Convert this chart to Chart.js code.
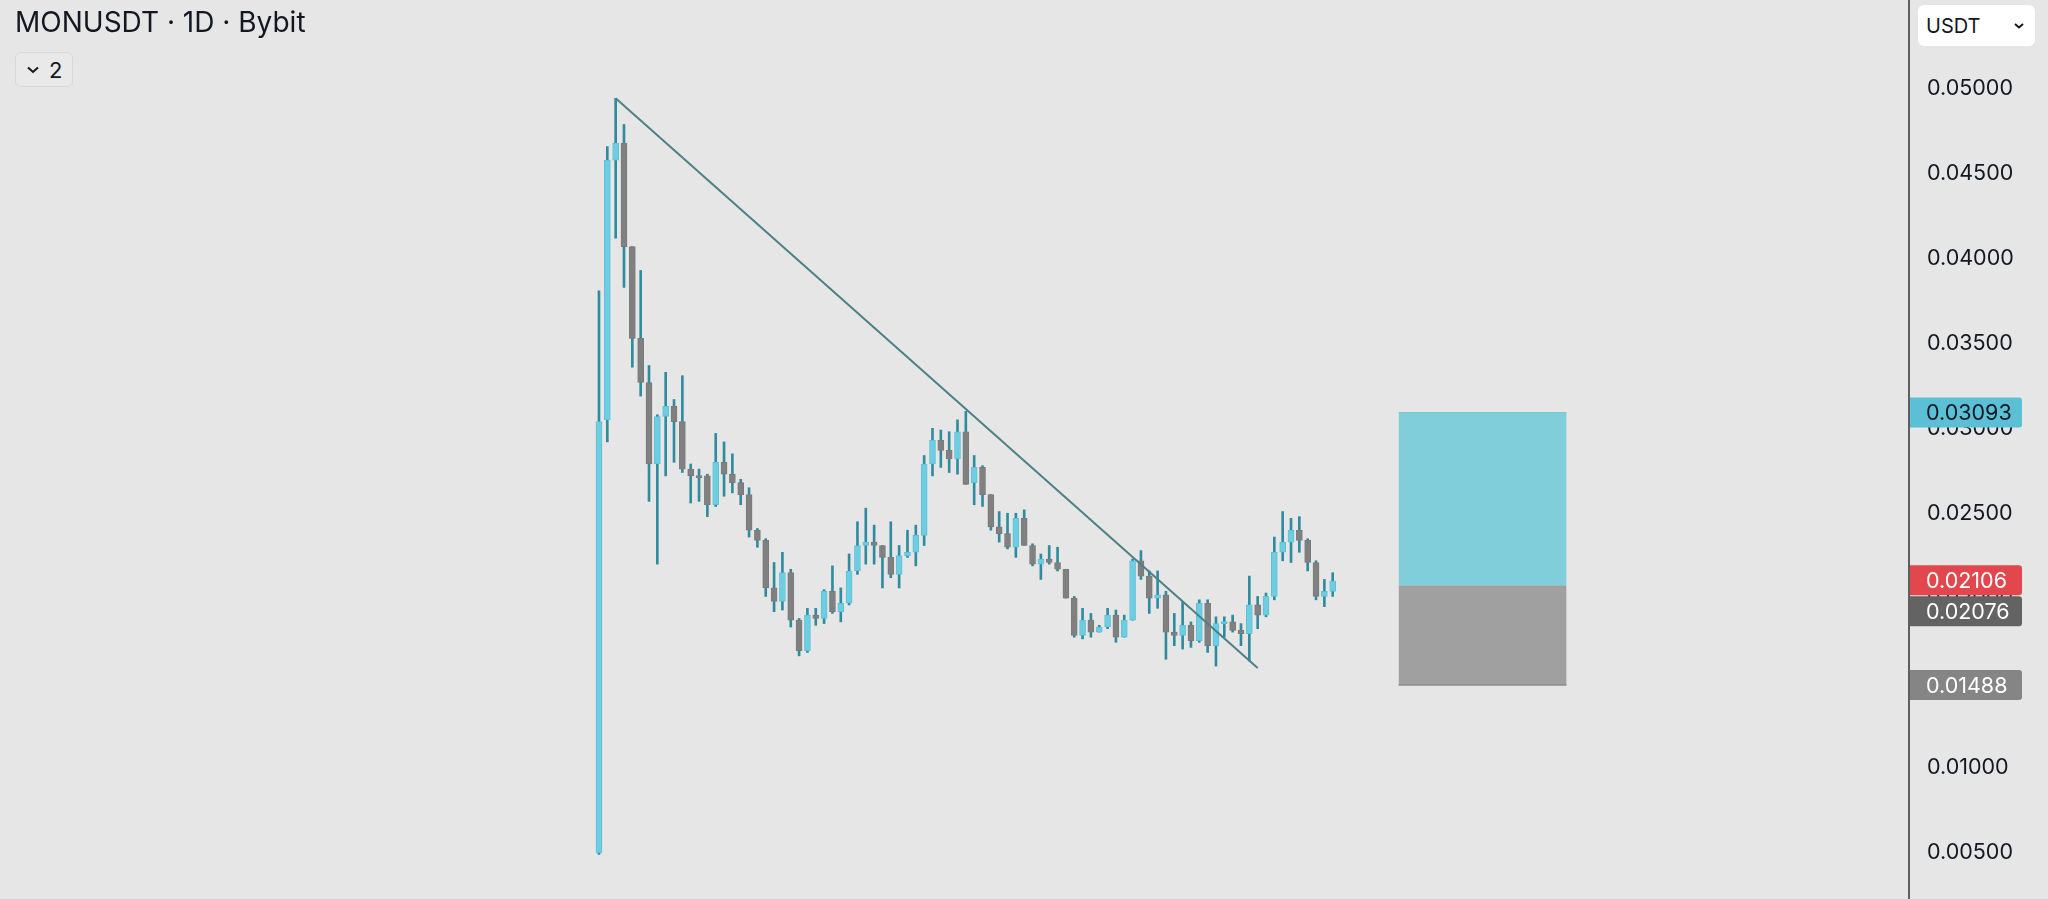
<!DOCTYPE html>
<html>
<head>
<meta charset="utf-8">
<title>MONUSDT · 1D · Bybit</title>
<script src="https://cdn.jsdelivr.net/npm/chart.js@4.4.1/dist/chart.umd.min.js"></script>
<style>
  html, body { margin: 0; padding: 0; background: #e6e6e6; overflow: hidden; }
  #wrap { position: relative; width: 2048px; height: 899px; }
  #chart { position: absolute; left: 0; top: 0; }
  .title { position: absolute; left: 15px; top: 5px; font: 28px Inter, "Noto Sans", sans-serif; color: #131722; }
  .legend-btn { position: absolute; left: 15px; top: 52px; width: 58px; height: 35px; box-sizing: border-box;
    border: 1px solid #d8d8d8; border-radius: 6px; background: #e9e9e9; font: 22px Inter, sans-serif; color: #131722;
    display: flex; align-items: center; gap: 9px; padding-left: 10px; }
  .currency { position: absolute; left: 1918px; top: 5px; width: 117px; height: 41px; box-sizing: border-box;
    background: #fff; border-radius: 6px; font: 20px Inter, sans-serif; color: #131722;
    display: flex; align-items: center; justify-content: space-between; padding: 0 10px 0 8px; }
</style>
</head>
<body>
<div id="wrap">
  <canvas id="chart" width="2048" height="899"></canvas>
  <div class="title">MONUSDT · 1D · Bybit</div>
  <div class="legend-btn">
    <svg width="14" height="10" viewBox="0 0 14 10"><path d="M2 2.5 L7 7 L12 2.5" fill="none" stroke="#131722" stroke-width="2"/></svg>
    <span>2</span>
  </div>
  <div class="currency">
    <span>USDT</span>
    <svg width="12" height="8" viewBox="0 0 12 8"><path d="M2 2 L6 5.5 L10 2" fill="none" stroke="#131722" stroke-width="2"/></svg>
  </div>
</div>
<script>
// ===== DATA (daily candles, index 0 = first day) =====
const opens  = [0.0050,0.0305,0.0458,0.0468,0.0407,0.0353,0.0327,0.0279,0.0307,0.0313,
                0.0304,0.0276,0.0272,0.0272,0.0255,0.0280,0.0273,0.0268,0.0261,0.0240,
                0.0234,0.0206,0.0198,0.0215,0.0187,0.0169,0.0190,0.0188,0.0204,0.0192,
                0.0197,0.0216,0.0231,0.0233,0.0231,0.0224,0.0214,0.0225,0.0227,0.0237,
                0.0279,0.0293,0.0287,0.0282,0.0298,0.0268,0.0277,0.0261,0.0242,0.0238,
                0.0230,0.0247,0.0231,0.0220,0.0223,0.0221,0.0217,0.0200,0.0178,0.0187,
                0.0180,0.0183,0.0190,0.0177,0.0187,0.0222,0.0213,0.0200,0.0202,0.0180,
                0.0178,0.0184,0.0175,0.0197,0.0172,0.0185,0.0186,0.0181,0.0179,0.0196,
                0.0190,0.0201,0.0227,0.0233,0.0240,0.0234,0.0221,0.0201,0.0204];
const highs  = [0.0381,0.0466,0.04944,0.0479,0.0407,0.0393,0.0337,0.0308,0.0333,0.0317,
                0.0331,0.0279,0.0276,0.0273,0.0297,0.0292,0.0285,0.0270,0.0265,0.0241,
                0.0235,0.0221,0.0227,0.0217,0.0188,0.0194,0.0194,0.0205,0.0219,0.0206,
                0.0226,0.0245,0.0253,0.0243,0.0231,0.0245,0.0231,0.0240,0.0243,0.0284,
                0.0300,0.0299,0.0298,0.0305,0.0310,0.0284,0.0278,0.0261,0.0251,0.0250,
                0.0250,0.0252,0.0232,0.0226,0.0231,0.0230,0.0217,0.0201,0.0194,0.0191,
                0.0184,0.0194,0.0193,0.0190,0.0223,0.0228,0.0216,0.0216,0.0204,0.0191,
                0.0198,0.0186,0.0199,0.0199,0.0189,0.0189,0.0190,0.0185,0.0213,0.0201,
                0.0203,0.0236,0.0251,0.0247,0.0248,0.0235,0.0222,0.0211,0.0215];
const lows   = [0.0049,0.0292,0.0412,0.0383,0.0336,0.0319,0.0257,0.0220,0.0272,0.0280,
                0.0274,0.0256,0.0257,0.0248,0.0254,0.0260,0.0262,0.0255,0.0236,0.0230,
                0.0201,0.0192,0.0193,0.0183,0.0166,0.0168,0.0184,0.0185,0.0191,0.0186,
                0.0196,0.0214,0.0220,0.0220,0.0206,0.0212,0.0206,0.0224,0.0219,0.0231,
                0.0272,0.0277,0.0274,0.0273,0.0267,0.0255,0.0254,0.0240,0.0233,0.0229,
                0.0224,0.0231,0.0219,0.0211,0.0220,0.0216,0.0200,0.0177,0.0176,0.0177,
                0.0180,0.0182,0.0174,0.0177,0.0187,0.0211,0.0191,0.0194,0.0164,0.0172,
                0.0170,0.0171,0.0174,0.0168,0.0160,0.0177,0.0180,0.0172,0.0163,0.0182,
                0.0189,0.0199,0.0222,0.0221,0.0227,0.0216,0.0199,0.0195,0.0201];
const closes = [0.0304,0.0458,0.0468,0.0407,0.0353,0.0327,0.0279,0.0307,0.0313,0.0304,
                0.0276,0.0272,0.0271,0.0255,0.0280,0.0273,0.0268,0.0261,0.0240,0.0234,
                0.0206,0.0198,0.0215,0.0187,0.0169,0.0190,0.0188,0.0204,0.0192,0.0197,
                0.0216,0.0231,0.0233,0.0231,0.0224,0.0214,0.0225,0.0227,0.0237,0.0279,
                0.0293,0.0287,0.0282,0.0298,0.0267,0.0277,0.0261,0.0242,0.0238,0.0230,
                0.0247,0.0231,0.0220,0.0223,0.0221,0.0217,0.0200,0.0178,0.0187,0.0180,
                0.0183,0.0190,0.0177,0.0187,0.0222,0.0213,0.0200,0.0202,0.0180,0.0178,
                0.0184,0.0175,0.0197,0.0172,0.0185,0.0186,0.0181,0.0179,0.0196,0.0190,
                0.0201,0.0227,0.0233,0.0240,0.0234,0.0221,0.0201,0.0204,0.0210];

const priceTicks = [0.005, 0.010, 0.015, 0.020, 0.025, 0.030, 0.035, 0.040, 0.045, 0.050];

// trend line drawn from day 2's high to day 79
const trendDays   = [2, 79];
const trendPrices = [0.04944, 0.01589];

// long position tool: start/end (in days), target / entry / stop
const positionDays = [95.9, 116.05];
const targetPrice = 0.03093;
const entryPrice  = 0.02076;
const stopPrice   = 0.01488;
const lastPrice   = 0.02106;

// ===== CHART =====
const UP_FILL = '#6fcde1', UP_EDGE = '#5cc2d9';
const DOWN_FILL = '#808080', DOWN_EDGE = '#7a7a7a';
const WICK = '#2f8c9f';
const AXIS_FONT = '21.5px Inter, "Noto Sans", sans-serif';

const days = opens.map((_, i) => i);
const isUp = days.map(i => closes[i] >= opens[i]);

const badges = [
  { value: targetPrice, bg: '#5bbfd6', fg: '#131722' },
  { value: lastPrice,   bg: '#e2474d', fg: '#ffffff' },
  { value: entryPrice,  bg: '#636363', fg: '#ffffff' },
  { value: stopPrice,   bg: '#858585', fg: '#ffffff' }
];

const axisBadges = {
  id: 'axisBadges',
  afterDraw(chart) {
    const y = chart.scales.y;
    const ctx = chart.ctx;
    const left = y.left + 1, w = 112, h = 30;
    let prevBottom = -Infinity;
    ctx.save();
    ctx.font = AXIS_FONT;
    ctx.textBaseline = 'middle';
    badges.forEach(b => {
      let top = y.getPixelForValue(b.value) - h / 2;
      if (top < prevBottom + 1) top = prevBottom + 1;
      ctx.fillStyle = b.bg;
      ctx.beginPath();
      ctx.roundRect(left, top, w, h, [0, 3, 3, 0]);
      ctx.fill();
      ctx.fillStyle = b.fg;
      ctx.fillText(b.value.toFixed(5), 1926, top + h / 2 + 1);
      prevBottom = top + h;
    });
    ctx.restore();
  }
};

new Chart(document.getElementById('chart'), {
  type: 'bar',
  data: {
    datasets: [
      {
        label: 'Body',
        data: days.map(i => ({ x: i, y: [opens[i], closes[i]] })),
        backgroundColor: days.map(i => isUp[i] ? UP_FILL : DOWN_FILL),
        borderColor: days.map(i => isUp[i] ? UP_EDGE : DOWN_EDGE),
        borderWidth: 1,
        borderSkipped: false,
        barThickness: 6,
        minBarLength: 2,
        grouped: false,
        order: 1
      },
      {
        label: 'Wick',
        data: days.map(i => ({ x: i, y: [lows[i], highs[i]] })),
        backgroundColor: WICK,
        borderWidth: 0,
        barThickness: 2,
        minBarLength: 1,
        grouped: false,
        order: 2
      },
      {
        type: 'line',
        label: 'Trend',
        data: trendDays.map((d, i) => ({ x: d, y: trendPrices[i] })),
        borderColor: '#4b8183',
        borderWidth: 2,
        pointRadius: 0,
        fill: false,
        order: 0
      },
      {
        type: 'line',
        label: 'Target zone',
        data: positionDays.map(d => ({ x: d, y: targetPrice })),
        borderColor: '#78c6d2',
        borderWidth: 1,
        backgroundColor: '#80ceda',
        pointRadius: 0,
        fill: { value: entryPrice },
        order: 3
      },
      {
        type: 'line',
        label: 'Stop zone',
        data: positionDays.map(d => ({ x: d, y: stopPrice })),
        borderColor: '#8c8c8c',
        borderWidth: 1.5,
        backgroundColor: '#a0a0a0',
        pointRadius: 0,
        fill: { value: entryPrice },
        order: 3
      }
    ]
  },
  options: {
    responsive: false,
    animation: false,
    layout: { padding: 0 },
    plugins: { legend: { display: false }, tooltip: { enabled: false } },
    scales: {
      x: {
        type: 'linear',
        display: false,
        offset: false,
        min: -71.84,
        max: 157.12
      },
      y: {
        position: 'right',
        min: 0.002279,
        max: 0.05523,
        grid: { display: false },
        border: { display: true, color: '#5e5e5e', width: 2 },
        afterBuildTicks: scale => { scale.ticks = priceTicks.map(v => ({ value: v })); },
        afterFit: scale => { scale.width = 139; scale.paddingTop = 0; scale.paddingBottom = 0; },
        ticks: {
          padding: 10,
          color: '#131722',
          font: { family: 'Inter', size: 21.5 },
          callback: v => v.toFixed(5)
        }
      }
    }
  },
  plugins: [axisBadges]
});
</script>
</body>
</html>
